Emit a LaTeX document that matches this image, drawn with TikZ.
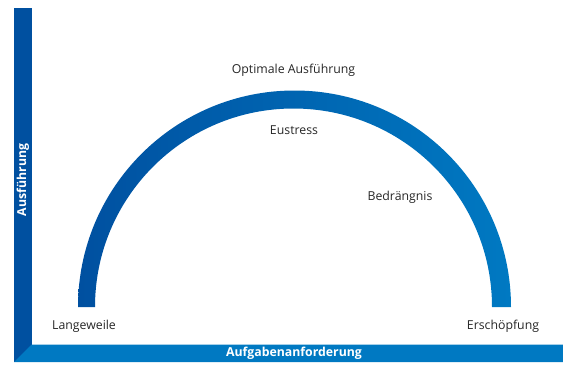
\documentclass[tikz,border=0pt]{standalone}
\usepackage{fontspec}
\setmainfont{Open Sans}
\usetikzlibrary{positioning}
\definecolor{deepblue}{RGB}{0,80,160}
\definecolor{skyblue}{RGB}{0,121,194}

\begin{document}
\begin{tikzpicture}[x=1pt, y=-1pt,
    phase/.style={font=\fontsize{12.3}{14}\selectfont, text=black!85, inner sep=0pt},
    axistext/.style={font=\bfseries\fontsize{12.3}{14}\selectfont, text=white, inner sep=0pt}]
  \useasboundingbox (0,0) rectangle (563,365);
  % axes
  \fill[deepblue] (14,8) rectangle (31.5,362);
  \fill[skyblue] (14,362) -- (31.5,344.5) -- (563,344.5) -- (563,362) -- cycle;
  % curve
  \shade[left color=deepblue, right color=skyblue]
    (78,307) arc[start angle=180, end angle=360, radius=216.5]
    -- (492,307) arc[start angle=360, end angle=180, radius=198.5] -- cycle;
  % labels
  \node[phase] (optimum) at (293.5,70) {Optimale Ausführung};
  \node[phase] (eustress) at (294,130) {Eustress};
  \node[phase] (distress) at (400,197) {Bedrängnis};
  \node[phase] (boredom) at (84,326) {Langeweile};
  \node[phase] (burnout) at (503,326) {Erschöpfung};
  \node[axistext, rotate=90] (yaxis) at (23,180) {Ausführung};
  \node[axistext] (xaxis) at (294,353.5) {Aufgabenanforderung};
\end{tikzpicture}
\end{document}
